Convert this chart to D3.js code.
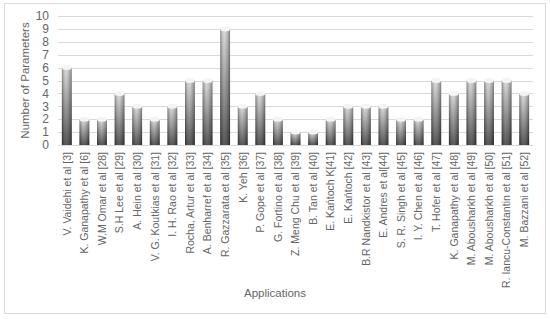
<!DOCTYPE html>
<html>
<head>
<meta charset="utf-8">
<script src="https://cdn.jsdelivr.net/npm/d3@7"></script>
<style>
  body { margin: 0; background: #fff; }
  text { font-family: "Liberation Sans", Arial, sans-serif; fill: #666; }
</style>
</head>
<body>
<script>
const categories = [
  "V. Vaidehi et al [3]", "K. Ganapathy et al [6]", "W.M Omar et al [28]", "S.H Lee et al [29]",
  "A. Hein et al [30]", "V. G. Koutkias et al [31]", "I. H. Rao et al [32]", "Rocha, Artur et al [33]",
  "A. Benharref et al [34]", "R. Gazzarata et al [35]", "K. Yeh [36]", "P. Gope et al [37]",
  "G. Fortino et al [38]", "Z. Meng Chu et al [39]", "B. Tan et al [40]", "E. Kańtoch K[41]",
  "E. Kańtoch [42]", "B.R Nandkistor et al [43]", "E. Andres et al[44]", "S. R. Singh et al [45]",
  "I. Y. Chen et al [46]", "T. Hofer et al [47]", "K. Ganapathy  et al [48]", "M. Abousharkh et al [49]",
  "M. Abousharkh et al [50]", "R. Iancu-Constantin et al [51]", "M. Bazzani et al [52]"
];
const values = [6, 2, 2, 4, 3, 2, 3, 5, 5, 9, 3, 4, 2, 1, 1, 2, 3, 3, 3, 2, 2, 5, 4, 5, 5, 5, 4];
const yTicks = [0, 1, 2, 3, 4, 5, 6, 7, 8, 9, 10];

const width = 550, height = 319;
const margin = { left: 58, right: 17, top: 16, bottom: 174 };

const svg = d3.select("body").append("svg")
  .attr("width", width)
  .attr("height", height);

// outer chart border
svg.append("rect")
  .attr("x", 4.5).attr("y", 3.5)
  .attr("width", 541).attr("height", 310)
  .attr("fill", "#fff")
  .attr("stroke", "#d9d9d9");

const defs = svg.append("defs");
const vert = defs.append("linearGradient").attr("id", "vert")
  .attr("x1", 0).attr("y1", 0).attr("x2", 0).attr("y2", 1);
vert.append("stop").attr("offset", "0%").attr("stop-color", "#d8d8d8");
vert.append("stop").attr("offset", "100%").attr("stop-color", "#3a3a3a");

const horiz = defs.append("linearGradient").attr("id", "horiz")
  .attr("x1", 0).attr("y1", 0).attr("x2", 1).attr("y2", 0);
horiz.append("stop").attr("offset", "0%").attr("stop-color", "#000").attr("stop-opacity", 0.35);
horiz.append("stop").attr("offset", "40%").attr("stop-color", "#fff").attr("stop-opacity", 0.15);
horiz.append("stop").attr("offset", "100%").attr("stop-color", "#000").attr("stop-opacity", 0.4);

const x = d3.scaleBand()
  .domain(categories)
  .range([margin.left, width - margin.right])
  .paddingInner(0.44)
  .paddingOuter(0.22);

const y = d3.scaleLinear()
  .domain([0, 10])
  .range([height - margin.bottom, margin.top]);

// gridlines
svg.append("g")
  .selectAll("line")
  .data(yTicks)
  .join("line")
  .attr("x1", margin.left).attr("x2", width - margin.right)
  .attr("y1", d => Math.round(y(d)) + 0.5).attr("y2", d => Math.round(y(d)) + 0.5)
  .attr("stroke", "#d9d9d9");

// y tick labels
svg.append("g")
  .selectAll("text")
  .data(yTicks)
  .join("text")
  .attr("x", 49)
  .attr("y", d => y(d))
  .attr("dy", "0.35em")
  .attr("text-anchor", "end")
  .attr("font-size", 12)
  .text(d => d);

// bars
const bars = svg.append("g");
bars.selectAll("rect.base")
  .data(values)
  .join("rect")
  .attr("class", "base")
  .attr("x", (d, i) => x(categories[i]))
  .attr("y", d => y(d))
  .attr("width", x.bandwidth())
  .attr("height", d => y(0) - y(d))
  .attr("fill", "url(#vert)");
bars.selectAll("rect.shade")
  .data(values)
  .join("rect")
  .attr("class", "shade")
  .attr("x", (d, i) => x(categories[i]))
  .attr("y", d => y(d))
  .attr("width", x.bandwidth())
  .attr("height", d => y(0) - y(d))
  .attr("fill", "url(#horiz)");
// cylinder tops
bars.selectAll("ellipse")
  .data(values)
  .join("ellipse")
  .attr("cx", (d, i) => x(categories[i]) + x.bandwidth() / 2)
  .attr("cy", d => y(d))
  .attr("rx", x.bandwidth() / 2)
  .attr("ry", 2.5)
  .attr("fill", "#f4f4f4");

// category labels
svg.append("g")
  .selectAll("text")
  .data(categories)
  .join("text")
  .attr("transform", d => `translate(${x(d) + x.bandwidth() / 2 + 3.8},${y(0) + 7}) rotate(-90)`)
  .attr("text-anchor", "end")
  .attr("font-size", 10.5)
  .text(d => d);

// axis titles
svg.append("text")
  .attr("transform", `translate(29,${(y(0) + y(10)) / 2}) rotate(-90)`)
  .attr("text-anchor", "middle")
  .attr("font-size", 11.5)
  .text("Number of Parameters");

svg.append("text")
  .attr("x", 275)
  .attr("y", 297)
  .attr("text-anchor", "middle")
  .attr("font-size", 11.5)
  .text("Applications");
</script>
</body>
</html>
